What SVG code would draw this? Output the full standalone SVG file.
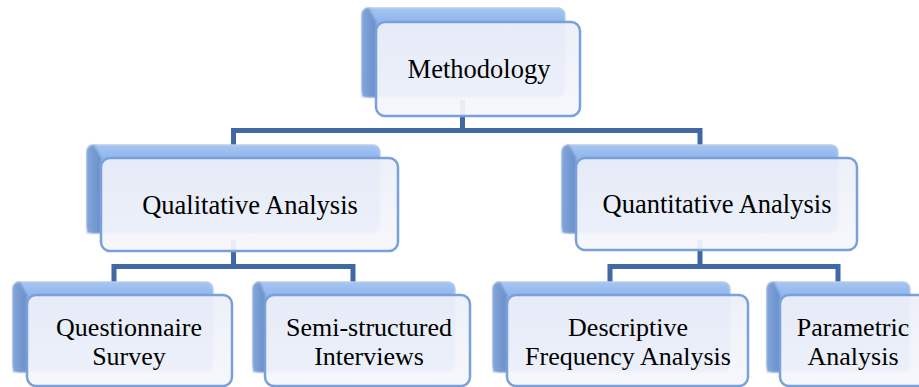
<svg xmlns="http://www.w3.org/2000/svg" width="919" height="387" viewBox="0 0 919 387">
<defs>
<linearGradient id="gTop" x1="0" y1="0" x2="0" y2="1">
<stop offset="0" stop-color="#a6c6f2"/>
<stop offset="0.15" stop-color="#8fb6ee"/>
<stop offset="1" stop-color="#7aa3e2"/>
</linearGradient>
<linearGradient id="gLeft" x1="0" y1="0" x2="1" y2="0">
<stop offset="0" stop-color="#82a5da"/>
<stop offset="1" stop-color="#6a8fca"/>
</linearGradient>
<linearGradient id="gFront" x1="0" y1="0" x2="0" y2="1">
<stop offset="0" stop-color="#eceff8"/>
<stop offset="1" stop-color="#f6f7fc"/>
</linearGradient>
<filter id="blur" x="-10%" y="-10%" width="120%" height="120%">
<feGaussianBlur stdDeviation="1.2"/>
</filter>
</defs>
<style>
.back{fill:url(#gTop);stroke:#b9cde9;stroke-width:1.5}
.bevel{fill:url(#gLeft)}
.front{fill:url(#gFront);fill-opacity:0.93;stroke:#7aa0da;stroke-width:2.5}
.lbl{font-family:"Liberation Serif","Times New Roman",serif;font-size:26.5px;fill:#000;text-anchor:middle}
.lbl2{font-family:"Liberation Serif","Times New Roman",serif;font-size:26px;fill:#000;text-anchor:middle}
.conn{fill:none;stroke:#3f68a4;stroke-width:5;stroke-linejoin:miter}
</style>
<rect width="919" height="387" fill="#ffffff"/>

<g id="connectors">
<path class="conn" d="M462.5,100 V130.5 M233.5,146 V130.5 H700 V146"/>
<path class="conn" d="M233.5,240 V266.5 M114,283 V266.5 H353 V283"/>
<path class="conn" d="M700,240 V266.5 M610,283 V266.5 H838 V283"/>
</g>

<g id="methodology">
<rect class="back" x="362" y="8" width="203" height="89" rx="7"/>
<path class="bevel" d="M362,15 Q362,8 369,8 L376,22 L376,97 L362,97 Z" filter="url(#blur)"/>
<rect class="front" x="376" y="22" width="204" height="94" rx="9"/>
<text class="lbl" x="479" y="78">Methodology</text>
</g>

<g id="qualitative">
<rect class="back" x="87" y="145" width="293" height="88" rx="7"/>
<path class="bevel" d="M87,152 Q87,145 94,145 L101,158 L101,233 L87,233 Z" filter="url(#blur)"/>
<rect class="front" x="101" y="158" width="297" height="93" rx="9"/>
<text class="lbl" x="250" y="214">Qualitative Analysis</text>
</g>

<g id="quantitative">
<rect class="back" x="562" y="145" width="276" height="88" rx="7"/>
<path class="bevel" d="M562,152 Q562,145 569,145 L576,158 L576,233 L562,233 Z" filter="url(#blur)"/>
<rect class="front" x="576" y="158" width="281" height="92" rx="9"/>
<text class="lbl" x="717" y="213">Quantitative Analysis</text>
</g>

<g id="questionnaire">
<rect class="back" x="13" y="282" width="200" height="90" rx="7"/>
<path class="bevel" d="M13,289 Q13,282 20,282 L27,295 L27,372 L13,372 Z" filter="url(#blur)"/>
<rect class="front" x="27" y="295" width="205" height="91" rx="9"/>
<text class="lbl2" x="129" y="336">Questionnaire</text>
<text class="lbl2" x="129" y="365">Survey</text>
</g>

<g id="semistructured">
<rect class="back" x="253" y="282" width="202" height="90" rx="7"/>
<path class="bevel" d="M253,289 Q253,282 260,282 L265,295 L265,372 L253,372 Z" filter="url(#blur)"/>
<rect class="front" x="265" y="295" width="205" height="91" rx="9"/>
<text class="lbl2" x="369" y="336">Semi-structured</text>
<text class="lbl2" x="369" y="365">Interviews</text>
</g>

<g id="descriptive">
<rect class="back" x="493" y="282" width="237" height="90" rx="7"/>
<path class="bevel" d="M493,289 Q493,282 500,282 L507,295 L507,372 L493,372 Z" filter="url(#blur)"/>
<rect class="front" x="507" y="295" width="241" height="91" rx="9"/>
<text class="lbl2" x="628" y="336">Descriptive</text>
<text class="lbl2" x="628" y="365">Frequency Analysis</text>
</g>

<g id="parametric">
<rect class="back" x="767" y="282" width="143" height="90" rx="7"/>
<path class="bevel" d="M767,289 Q767,282 774,282 L780,295 L780,372 L767,372 Z" filter="url(#blur)"/>
<rect class="front" x="780" y="295" width="150" height="91" rx="9"/>
<text class="lbl2" x="853" y="336">Parametric</text>
<text class="lbl2" x="853" y="365">Analysis</text>
</g>
</svg>
